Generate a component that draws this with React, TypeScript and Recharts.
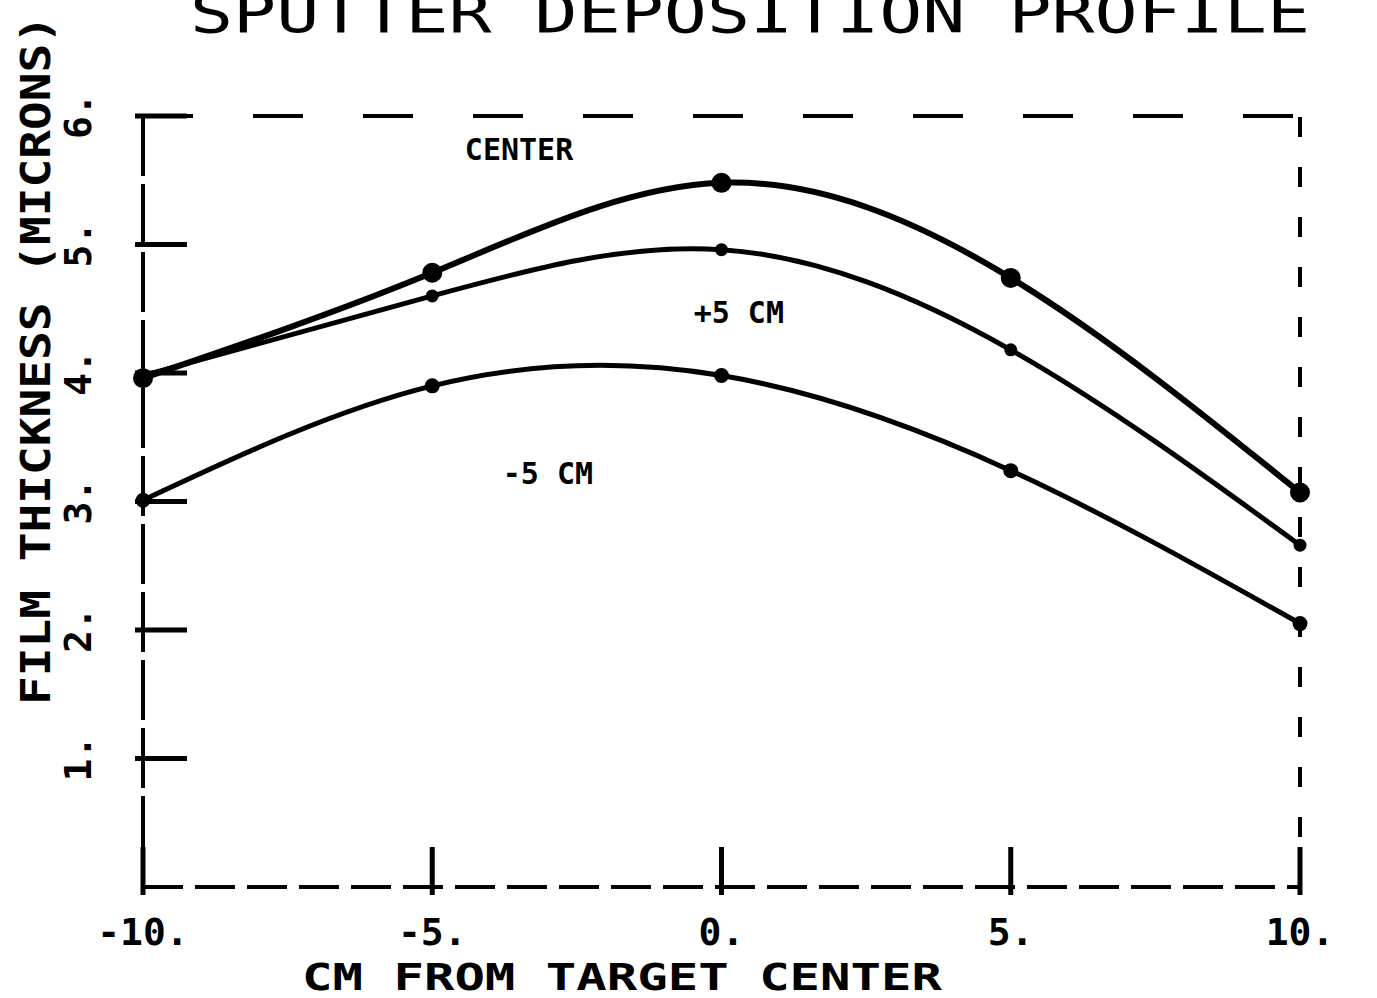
import React from 'react';
import { LineChart, Line, XAxis, YAxis, ReferenceLine, ReferenceDot } from 'recharts';

const positions = [-10, -5, 0, 5, 10];
const centerSeries = [3.96, 4.78, 5.48, 4.74, 3.07];
const plusSeries = [3.98, 4.6, 4.96, 4.18, 2.66];
const minusSeries = [3.01, 3.9, 3.98, 3.24, 2.05];
const xTicks = [-10, -5, 0, 5, 10];
const yTicks = [1, 2, 3, 4, 5, 6];
const seriesLabels = ['CENTER', '+5 CM', '-5 CM'];
const labelX = [-3.5, 0.3, -3.0];
const labelY = [5.74, 4.47, 3.22];

const data = positions.map((p, i) => ({
  x: p,
  center: centerSeries[i],
  plus: plusSeries[i],
  minus: minusSeries[i],
}));

const FONT = '"DejaVu Sans Mono", "Liberation Mono", monospace';

const XTick = (props: any) => {
  const { x, y, payload } = props;
  return (
    <g>
      <line x1={x} y1={y} x2={x} y2={y - 48} stroke="#000" strokeWidth={5} />
      <text x={x} y={y + 50} textAnchor="middle" fontFamily={FONT} fontWeight="bold" fontSize={38} fill="#000">
        {payload.value + '.'}
      </text>
    </g>
  );
};

const YTick = (props: any) => {
  const { x, y, payload } = props;
  return (
    <g>
      <line x1={x} y1={y} x2={x + 52} y2={y} stroke="#000" strokeWidth={5} />
      <text
        x={x - 44}
        y={y}
        transform={`rotate(-90 ${x - 44} ${y})`}
        textAnchor="middle"
        fontFamily={FONT}
        fontWeight="bold"
        fontSize={38}
        fill="#000"
      >
        {payload.value + '.'}
      </text>
    </g>
  );
};

export default function App() {
  return (
    <div style={{ position: 'absolute', left: 0, top: 0, width: 1377, height: 998, background: '#fff', overflow: 'hidden' }}>
      <LineChart width={1377} height={998} data={data} margin={{ top: 116, right: 77, bottom: 51, left: 83 }}>
        <text x={750} y={32} textAnchor="middle" fontFamily={FONT} fontSize={56} fill="#000" textLength={1120} lengthAdjust="spacingAndGlyphs">
          SPUTTER DEPOSITION PROFILE
        </text>
        <text
          x={50}
          y={360}
          transform="rotate(-90 50 360)"
          textAnchor="middle"
          fontFamily={FONT}
          fontWeight="bold"
          fontSize={40}
          fill="#000"
          textLength={690}
          lengthAdjust="spacingAndGlyphs"
        >
          FILM THICKNESS (MICRONS)
        </text>
        <text x={622} y={990} textAnchor="middle" fontFamily={FONT} fontWeight="bold" fontSize={38} fill="#000" textLength={640} lengthAdjust="spacingAndGlyphs">
          CM FROM TARGET CENTER
        </text>
        <XAxis
          dataKey="x"
          type="number"
          domain={[-10, 10]}
          ticks={xTicks}
          height={60}
          tick={<XTick />}
          tickLine={false}
          axisLine={{ stroke: '#000', strokeWidth: 4, strokeDasharray: '40 12' }}
        />
        <YAxis
          type="number"
          domain={[0, 6]}
          ticks={yTicks}
          width={60}
          tick={<YTick />}
          tickLine={false}
          axisLine={{ stroke: '#000', strokeWidth: 4, strokeDasharray: '60 8' }}
        />
        <ReferenceLine y={6} stroke="#000" strokeWidth={4} strokeDasharray="50 60" />
        <ReferenceLine x={10} stroke="#000" strokeWidth={4} strokeDasharray="20 30" />
        <Line type="natural" dataKey="center" stroke="#000" strokeWidth={6} isAnimationActive={false}
          dot={{ r: 7, fill: '#000', stroke: '#000' }} />
        <Line type="natural" dataKey="plus" stroke="#000" strokeWidth={5} isAnimationActive={false}
          dot={{ r: 4, fill: '#000', stroke: '#000' }} />
        <Line type="natural" dataKey="minus" stroke="#000" strokeWidth={5} isAnimationActive={false}
          dot={{ r: 5, fill: '#000', stroke: '#000' }} />
        {seriesLabels.map((t, i) => (
          <ReferenceDot
            key={t}
            x={labelX[i]}
            y={labelY[i]}
            r={0}
            stroke="none"
            label={{ value: t, position: 'center', fontFamily: FONT, fontWeight: 'bold', fontSize: 30, fill: '#000' }}
          />
        ))}
      </LineChart>
    </div>
  );
}
